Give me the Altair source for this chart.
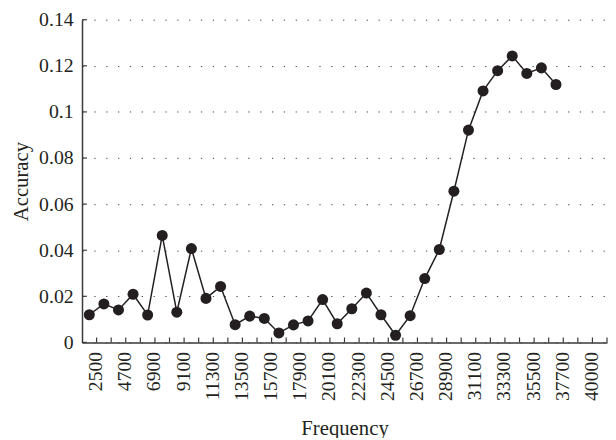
import altair as alt
import pandas as pd

# x categories (frequency); labels shown on every other category
categories = ["2500", "3600", "4700", "5800", "6900", "8000", "9100", "10200",
              "11300", "12400", "13500", "14600", "15700", "16800", "17900",
              "19000", "20100", "21200", "22300", "23400", "24500", "25600",
              "26700", "27800", "28900", "30000", "31100", "32200", "33300",
              "34400", "35500", "36600", "37700", "38800", "40000", "41100"]
label_categories = ["2500", "4700", "6900", "9100", "11300", "13500", "15700",
                    "17900", "20100", "22300", "24500", "26700", "28900",
                    "31100", "33300", "35500", "37700", "40000"]

# accuracy for the first 33 categories (2500 ... 37700)
accuracy = [0.0120, 0.0167, 0.0141, 0.0209, 0.0119, 0.0464, 0.0131, 0.0407,
            0.0191, 0.0243, 0.0077, 0.0114, 0.0104, 0.0041, 0.0076, 0.0093,
            0.0186, 0.0081, 0.0146, 0.0214, 0.0120, 0.0031, 0.0116, 0.0277,
            0.0403, 0.0656, 0.0921, 0.1091, 0.1179, 0.1243, 0.1167, 0.1191,
            0.1119]

y_ticks = [0, 0.02, 0.04, 0.06, 0.08, 0.10, 0.12, 0.14]

INK = "#231f20"
FONT = "Liberation Serif"
W = 532
H = 327

data = pd.DataFrame({"Frequency": categories[:len(accuracy)], "Accuracy": accuracy})
xticks_df = pd.DataFrame({"Frequency": categories})
yticks_df = pd.DataFrame({"Accuracy": y_ticks})

x_scale = alt.Scale(type="band", domain=categories, paddingInner=0, paddingOuter=0)
y_scale = alt.Scale(domain=[0, 0.14], nice=False, zero=True)

x_axis = alt.Axis(values=label_categories, labelAngle=-90, labelOffset=7,
                  ticks=False, grid=False, labelPadding=9, titlePadding=17,
                  title="Frequency")
y_axis = alt.Axis(values=y_ticks, format=".2~f", ticks=False, grid=True,
                  gridDash=[1.3, 10.7], gridColor="#444444", gridWidth=1,
                  labelPadding=9, titlePadding=7, title="Accuracy")

x_enc = alt.X("Frequency:N", scale=x_scale, axis=x_axis, sort=categories)
y_enc = alt.Y("Accuracy:Q", scale=y_scale, axis=y_axis)

line = alt.Chart(data).mark_line(color=INK, strokeWidth=1.5).encode(x=x_enc, y=y_enc)
points = alt.Chart(data).mark_circle(color=INK, size=125, opacity=1).encode(x=x_enc, y=y_enc)

xtick_layer = alt.Chart(xticks_df).mark_rule(color="#3a3a3a", strokeWidth=1.2).encode(
    x=alt.X("Frequency:N", scale=x_scale, axis=x_axis, sort=categories, bandPosition=1),
    y=alt.value(H), y2=alt.value(H - 5))
ytick_layer = alt.Chart(yticks_df).mark_rule(color="#3a3a3a", strokeWidth=1.2).encode(
    y=y_enc, x=alt.value(0), x2=alt.value(5))

chart = alt.layer(xtick_layer, ytick_layer, line, points).properties(
    width=W, height=H,
    autosize=alt.AutoSizeParams(type="none"),
    padding={"left": 75, "top": 9, "right": 1, "bottom": 94},
).configure_view(stroke=None).configure_axis(
    labelFont=FONT, titleFont=FONT, labelFontSize=20, titleFontSize=21,
    labelColor=INK, titleColor=INK, titleFontWeight="normal",
    domainColor="#3a3a3a", domainWidth=1.5,
)

chart.save("out.html", embed_options={"renderer": "svg", "actions": False})
